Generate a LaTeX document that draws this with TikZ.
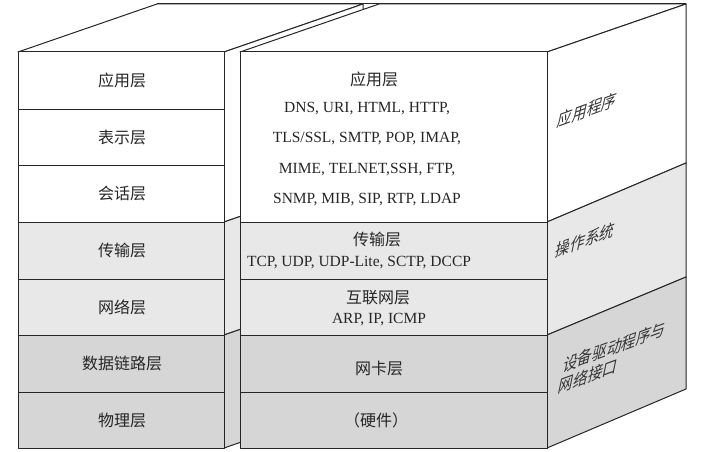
\documentclass[tikz,border=0pt]{standalone}
\usepackage{fontspec}
\setmainfont{Liberation Serif}
\newfontfamily\cjk{Noto Sans CJK SC}
\usepackage{tikz}
\usetikzlibrary{calc}

\definecolor{paleRow}{gray}{0.91}
\definecolor{darkRow}{gray}{0.84}

\tikzset{
  face/.style={draw=black!85, line width=1pt, line join=round},
  layer/.style={font=\cjk\fontsize{16}{18}\selectfont, inner sep=0, text=black!85},
  proto/.style={font=\fontsize{15.5}{30.5}\selectfont, align=center, inner sep=0, text=black!85},
  sidetext/.style={font=\cjk\fontsize{15.5}{18.5}\selectfont, align=left, inner sep=0,
    rotate=20, xslant=0.62, text=black!80}
}

\begin{document}
\begin{tikzpicture}[x=1pt, y=1pt]

  \useasboundingbox (0,0) rectangle (722,451);

  % OSI stack, corners
  \coordinate (A) at (18,399);
  \coordinate (B) at (224,399);
  \coordinate (C) at (224,3);
  \coordinate (D) at (18,3);

  % TCP/IP stack, corners
  \coordinate (E) at (240,399);
  \coordinate (F) at (547,399);
  \coordinate (G) at (547,3);
  \coordinate (H) at (240,3);

  % OSI stack: top and side faces
  \filldraw[face, fill=white] (A) -- ($ (A)+(139,48) $) -- ($ (B)+(139,48) $) -- (B) -- cycle;
  \filldraw[face, fill=white] (B) -- ($ (B)+(139,48) $) -- (363,277) -- (224,229) -- cycle;
  \filldraw[face, fill=paleRow] (224,229) -- (363,277) -- (363,164) -- (224,116) -- cycle;
  \filldraw[face, fill=darkRow] (224,116) -- (363,164) -- ($ (C)+(139,48) $) -- (C) -- cycle;

  % OSI stack: front rows
  \filldraw[face, fill=white] (A) rectangle (224,342);
  \filldraw[face, fill=white] (18,342) rectangle (224,286);
  \filldraw[face, fill=white] (18,286) rectangle (224,229);
  \filldraw[face, fill=paleRow] (18,229) rectangle (224,172);
  \filldraw[face, fill=paleRow] (18,172) rectangle (224,116);
  \filldraw[face, fill=darkRow] (18,116) rectangle (224,59);
  \filldraw[face, fill=darkRow] (18,59) rectangle (C);

  % TCP/IP stack: top and side faces
  \filldraw[face, fill=white] (E) -- ($ (E)+(139,48) $) -- ($ (F)+(139,48) $) -- (F) -- cycle;
  \filldraw[face, fill=white] (F) -- ($ (F)+(139,48) $) -- (686,288) -- (547,229) -- cycle;
  \filldraw[face, fill=paleRow] (547,229) -- (686,288) -- (686,174) -- (547,116) -- cycle;
  \filldraw[face, fill=darkRow] (547,116) -- (686,174) -- (686,62) -- (G) -- cycle;

  % TCP/IP stack: front rows
  \filldraw[face, fill=white] (E) rectangle (547,229);
  \filldraw[face, fill=paleRow] (240,229) rectangle (547,172);
  \filldraw[face, fill=paleRow] (240,172) rectangle (547,116);
  \filldraw[face, fill=darkRow] (240,116) rectangle (547,59);
  \filldraw[face, fill=darkRow] (240,59) rectangle (G);

  \draw[face] ($ (A)+(139,48) $) -- ($ (F)+(139,48) $);

  % OSI labels
  \node[layer] (osi7) at (122,370.5) {应用层};
  \node[layer] (osi6) at (122,314) {表示层};
  \node[layer] (osi5) at (122,257.5) {会话层};
  \node[layer] (osi4) at (122,200.5) {传输层};
  \node[layer] (osi3) at (122,144) {网络层};
  \node[layer] (osi2) at (122,87.5) {数据链路层};
  \node[layer] (osi1) at (122,31) {物理层};

  % TCP/IP labels
  \node[layer] (app) at (374,372) {应用层};
  \node[proto] (appP) at (367,297) {DNS, URI, HTML, HTTP,\\TLS/SSL, SMTP, POP, IMAP,\\MIME, TELNET,SSH, FTP,\\SNMP, MIB, SIP, RTP, LDAP};
  \node[layer] (trans) at (377,212) {传输层};
  \node[proto] (transP) at (359,188) {TCP, UDP, UDP-Lite, SCTP, DCCP};
  \node[layer] (inet) at (378,153) {互联网层};
  \node[proto] (inetP) at (379,131) {ARP, IP, ICMP};
  \node[layer] (nic) at (379,83) {网卡层};
  \node[layer] (hw) at (376,31) {（硬件）};

  % side labels
  \node[sidetext] (user) at (587.5,341) {应用程序};
  \node[sidetext] (os) at (585.5,211) {操作系统};
  \node[sidetext] (drv) at (612.5,93.5) {设备驱动程序与\\网络接口};

\end{tikzpicture}
\end{document}
